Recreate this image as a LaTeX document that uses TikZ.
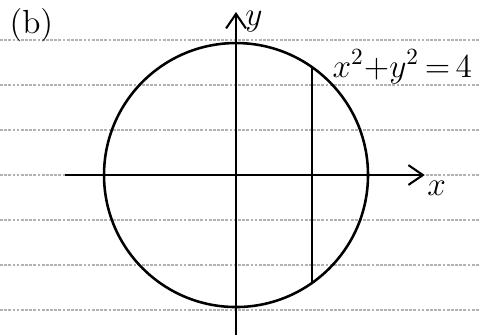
\documentclass[tikz,border=0pt]{standalone}
\usepackage{tikz}
\usetikzlibrary{arrows.meta}

\begin{document}
\begin{tikzpicture}[x=1cm,y=1cm,
  ruled/.style={gray!60, line width=0.5pt, dash pattern=on 1.2pt off 0.6pt},
  axis/.style={line width=0.9pt, -{Straight Barb[length=2.2mm,width=3mm]}},
  curve/.style={line width=1.1pt}]
\useasboundingbox (-3.576,-2.424) rectangle (3.697,2.652);

% ruled lines of the paper
\foreach \k in {-3,...,3}{
  \draw[ruled] (-3.576,\k*0.682) -- (3.697,\k*0.682);
}

% axes
\coordinate (O) at (0,0);
\coordinate (xs) at (-2.59,0);
\coordinate (xe) at (2.86,0);
\coordinate (ys) at (0,-2.424);
\coordinate (ye) at (0,2.47);
\draw[axis] (xs) -- (xe);
\draw[axis] (ys) -- (ye);
\node[font=\Large] (xl) at (3.04,-0.2) {$x$};
\node[font=\Large] (yl) at (0.27,2.33) {$y$};

% circle of radius 2 and the vertical chord
\draw[curve] (O) circle (2);
\coordinate (A) at (55:2);
\coordinate (B) at (-55:2);
\draw[line width=0.7pt] (A) -- (B);
\node[font=\Large, anchor=west, inner sep=1pt] (eq) at (1.42,1.64) {$x^2{+}y^2\,{=}\,4$};

\node[font=\Large] (lab) at (-3.1,2.27) {(b)};

\end{tikzpicture}
\end{document}
